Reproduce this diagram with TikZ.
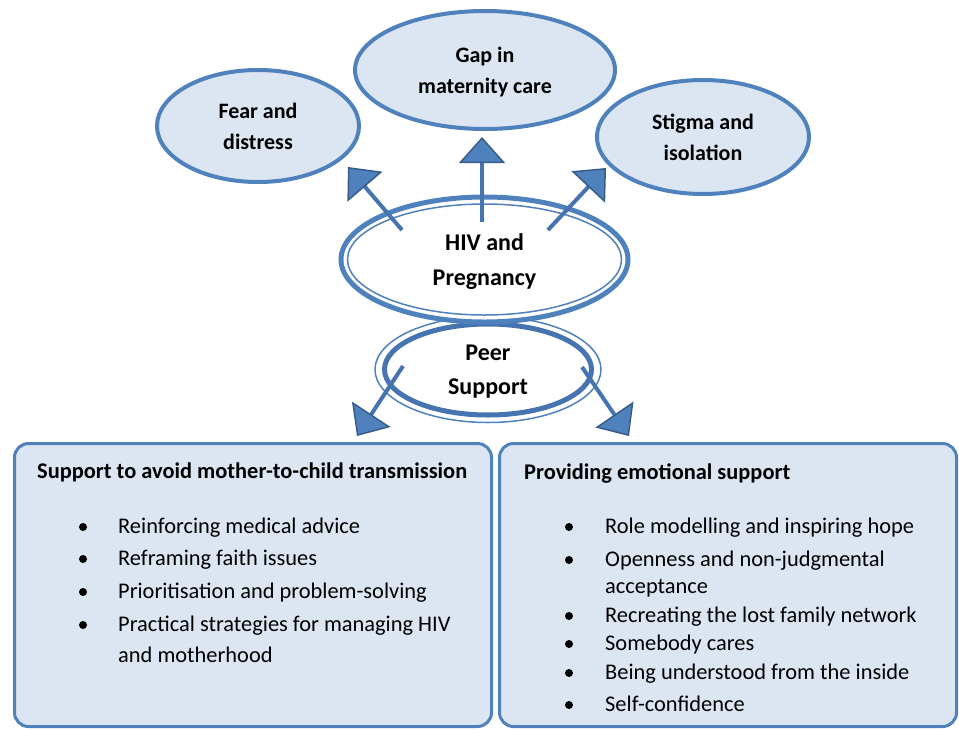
\documentclass[tikz,border=0pt]{standalone}
\usepackage{fontspec}
\setmainfont{Carlito}
\usepackage{tikz}
\usetikzlibrary{shapes.geometric,arrows.meta}
\definecolor{paleblue}{HTML}{DCE6F2}
\definecolor{rimblue}{HTML}{4F81BD}
\definecolor{deepblue}{HTML}{4674B0}
\definecolor{headrim}{HTML}{385D8A}
\tikzset{
	bubble/.style = {ellipse, draw=rimblue, fill=paleblue, line width=4pt,
		inner sep=0pt, align=center, text depth=0pt,
		font=\bfseries\fontsize{22}{31}\selectfont},
	core/.style = {ellipse, draw=rimblue, fill=white, line width=5pt,
		inner sep=0pt, align=center, text depth=0pt,
		font=\bfseries\fontsize{24}{34.5}\selectfont},
	ring/.style = {draw=rimblue, line width=1.5pt},
	panel/.style = {rectangle, rounded corners=14pt, draw=rimblue,
		fill=paleblue, line width=3pt},
	heading/.style = {anchor=base west, inner sep=0pt, yshift=-6.5pt,
		font=\bfseries\fontsize{22.4}{26}\selectfont},
	item/.style = {anchor=base west, inner sep=0pt, yshift=-6.5pt,
		font=\fontsize{22.4}{26}\selectfont},
	dot/.style = {circle, fill=black, inner sep=0pt, minimum size=8pt},
	link/.style = {draw=deepblue, line width=4pt,
		-{Triangle[width=46pt, length=26pt, fill=rimblue, color=headrim,
		line width=1.5pt]}}
}

\begin{document}
\begin{tikzpicture}[x=1pt, y=-1pt]
\useasboundingbox (0,0) rectangle (959,729);

% outer ring of concerns
\node [bubble, minimum width=202pt, minimum height=112pt] (fear) at (258,126)
	{Fear and\\distress};
\node [bubble, minimum width=260pt, minimum height=118pt] (gap) at (485,70)
	{Gap in\\maternity care};
\node [bubble, minimum width=212pt, minimum height=114pt] (stigma) at (703,137)
	{Stigma and\\isolation};

% centre: peer support sits behind hiv
\node [core, draw=deepblue, minimum width=207pt, minimum height=91pt] (peer) at (488,369.5)
	{Peer\\Support};
\draw [ring] (peer.center) ellipse [x radius=113, y radius=53];
\node [core, minimum width=287pt, minimum height=125pt] (hiv) at (484.5,259.5)
	{HIV and\\Pregnancy};
\draw [ring] (hiv.center) ellipse [x radius=137, y radius=55.5];

% the two panels
\node [panel, minimum width=477pt, minimum height=283pt] (careBox) at (253,585) {};
\node [panel, minimum width=457pt, minimum height=283pt] (moodBox) at (728,585) {};

% arrow ends
\coordinate (fearTail) at (402,230);
\coordinate (fearTip) at (348,167);
\coordinate (gapTail) at (482,222);
\coordinate (gapTip) at (482,137);
\coordinate (stigmaTail) at (548,230);
\coordinate (stigmaTip) at (606,168);
\coordinate (careTail) at (403,366);
\coordinate (careTip) at (357,436);
\coordinate (moodTail) at (582,367);
\coordinate (moodTip) at (629,436);

\draw [link] (fearTail) -- (fearTip);
\draw [link] (gapTail) -- (gapTip);
\draw [link] (stigmaTail) -- (stigmaTip);
\draw [link] (careTail) -- (careTip);
\draw [link] (moodTail) -- (moodTip);

% left panel text
\node [heading] (careHead) at (37,472) {Support to avoid mother-to-child transmission};
\foreach \y/\t [count=\i] in {527/Reinforcing medical advice, 559/Reframing faith issues,
	592/Prioritisation and problem-solving, 625/Practical strategies for managing HIV}
{
	\node [dot] (careDot\i) at (83,\y) {};
	\node [item] (careItem\i) at (118,\y) {\t};
}
\node [item] (careMore) at (118,656) {and motherhood};

% right panel text
\node [heading] (moodHead) at (524,473) {Providing emotional support};
\foreach \y/\t [count=\i] in {527/Role modelling and inspiring hope, 560/Openness and non-judgmental,
	616/Recreating the lost family network, 644/Somebody cares,
	673/Being understood from the inside, 705/Self-confidence}
{
	\node [dot] (moodDot\i) at (569,\y) {};
	\node [item] (moodItem\i) at (605,\y) {\t};
}
\node [item] (moodMore) at (605,587) {acceptance};
\end{tikzpicture}
\end{document}
